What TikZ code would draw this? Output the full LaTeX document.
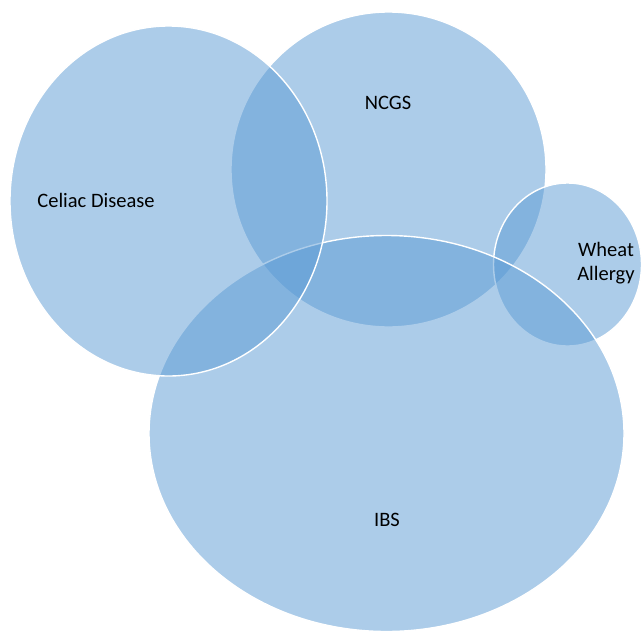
\documentclass[tikz,border=0pt]{standalone}
\usepackage{fontspec}
\setmainfont{Carlito}
\definecolor{setblue}{HTML}{5B9BD5}
\begin{document}
\begin{tikzpicture}[x=1pt,y=-1pt,
  setshape/.style={fill=setblue,fill opacity=0.5,draw=white,line width=1.4pt},
  setlabel/.style={font=\fontsize{20.5}{24.5}\selectfont,text=black,align=center,inner sep=0pt}]
\useasboundingbox (0,0) rectangle (642,632);
\fill[white] (0,0) rectangle (642,632);
\draw[setshape] (388.5,169.5) ellipse [x radius=157.5, y radius=157.5];
\draw[setshape] (567.5,264.5) ellipse [x radius=74, y radius=81.5];
\draw[setshape] (386.5,433.5) ellipse [x radius=237.5, y radius=198];
\draw[setshape] (168.5,201) ellipse [x radius=158.5, y radius=175];
\node[setlabel] (ncgs) at (388,103) {NCGS};
\node[setlabel] (wheat) at (606,263) {Wheat\\Allergy};
\node[setlabel] (ibs) at (387,520) {IBS};
\node[setlabel] (celiac) at (96,200) {Celiac Disease};
\end{tikzpicture}
\end{document}
